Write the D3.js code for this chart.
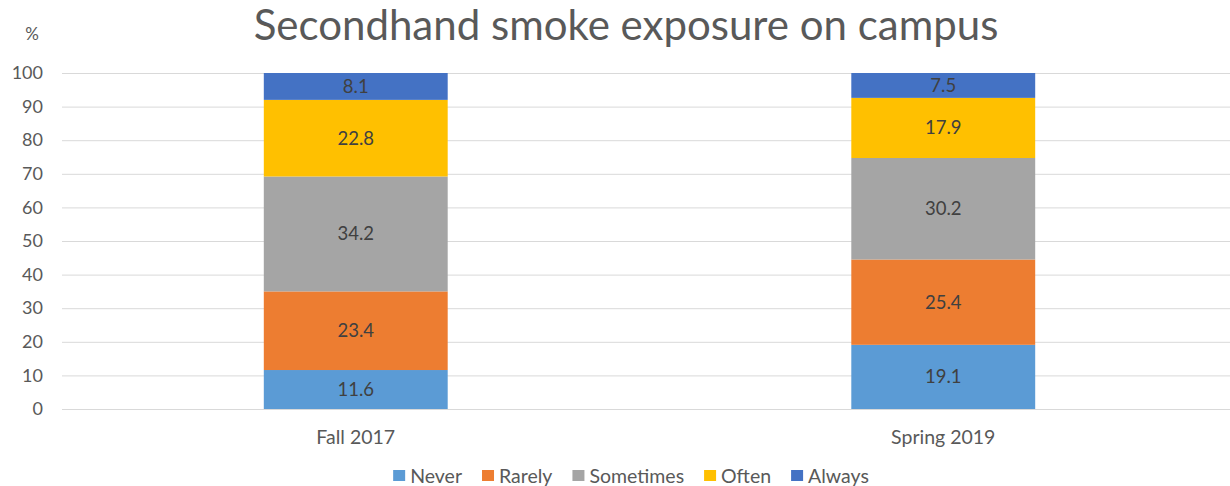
<!DOCTYPE html>
<html>
<head>
<meta charset="utf-8">
<script src="https://cdn.jsdelivr.net/npm/d3@7"></script>
<style>
  html, body { margin: 0; padding: 0; background: #fff; }
  svg { display: block; font-family: Lato, "Open Sans", sans-serif; }
</style>
</head>
<body>
<svg id="chart" width="1230" height="486"></svg>
<script>
// Survey waves and response shares (%)
const categories = ["Fall 2017", "Spring 2019"];
const seriesNames = ["Never", "Rarely", "Sometimes", "Often", "Always"];
const never = [11.6, 19.1];
const rarely = [23.4, 25.4];
const sometimes = [34.2, 30.2];
const often = [22.8, 17.9];
const always = [8.1, 7.5];
const yTicks = [0, 10, 20, 30, 40, 50, 60, 70, 80, 90, 100];
const colors = ["#5B9BD5", "#ED7D31", "#A5A5A5", "#FFC000", "#4472C4"];

const rows = categories.map((c, i) => ({
  cat: c,
  Never: never[i], Rarely: rarely[i], Sometimes: sometimes[i], Often: often[i], Always: always[i]
}));

const svg = d3.select("#chart");
const plotLeft = 62, plotRight = 1237, plotTop = 73, plotBottom = 409;
const fontFamily = "Lato, 'Open Sans', sans-serif";

const x = d3.scaleBand().domain(categories).range([plotLeft, plotRight])
  .paddingInner(0.687).paddingOuter(0.3435);
const y = d3.scaleLinear().domain([0, 100]).range([plotBottom, plotTop]);
const color = d3.scaleOrdinal().domain(seriesNames).range(colors);

// Title
svg.append("text")
  .attr("x", 626).attr("y", 40)
  .attr("text-anchor", "middle")
  .attr("font-size", 42)
  .attr("fill", "#595959")
  .text("Secondhand smoke exposure on campus");

// Unit label
svg.append("text")
  .attr("x", 32).attr("y", 40)
  .attr("text-anchor", "middle")
  .attr("font-size", 17)
  .attr("fill", "#595959")
  .text("%");

// Gridlines and y tick labels
const yAxis = d3.axisLeft(y).tickValues(yTicks).tickSize(-(plotRight - plotLeft)).tickPadding(19);
const gy = svg.append("g").attr("transform", `translate(${plotLeft},0)`).call(yAxis);
gy.select(".domain").remove();
gy.selectAll(".tick line").attr("stroke", "#D9D9D9").attr("stroke-width", 1);
gy.selectAll(".tick text")
  .attr("font-size", 18).attr("fill", "#595959")
  .attr("font-family", fontFamily);

// Stacked bars
const stacked = d3.stack().keys(seriesNames)(rows);
const layers = svg.append("g").selectAll("g").data(stacked).join("g")
  .attr("fill", d => color(d.key));
layers.selectAll("rect").data(d => d).join("rect")
  .attr("x", d => x(d.data.cat))
  .attr("width", x.bandwidth())
  .attr("y", d => y(Math.min(d[1], 100)))
  .attr("height", d => y(d[0]) - y(Math.min(d[1], 100)));

// Value labels
const labels = svg.append("g");
stacked.forEach(layer => {
  layer.forEach(d => {
    labels.append("text")
      .attr("x", x(d.data.cat) + x.bandwidth() / 2)
      .attr("y", (y(d[0]) + y(Math.min(d[1], 100))) / 2)
      .attr("dy", "0.35em")
      .attr("text-anchor", "middle")
      .attr("font-size", 18.5)
      .attr("fill", "#404040")
      .text(d.data[layer.key].toFixed(1));
  });
});

// Category axis labels
const xAxis = d3.axisBottom(x).tickSize(0).tickPadding(21);
const gx = svg.append("g").attr("transform", `translate(0,${plotBottom})`).call(xAxis);
gx.select(".domain").remove();
gx.selectAll(".tick text")
  .attr("font-size", 19.5).attr("fill", "#595959")
  .attr("font-family", fontFamily);

// Legend: swatch + label, laid out in a centred row
const legend = svg.append("g");
const items = seriesNames.map((name, i) => {
  const g = legend.append("g");
  g.append("rect")
    .attr("x", 0).attr("y", -6)
    .attr("width", 12).attr("height", 11)
    .attr("fill", colors[i]);
  const t = g.append("text")
    .attr("x", 17).attr("y", 0)
    .attr("dy", "0.35em")
    .attr("font-size", 19.5)
    .attr("fill", "#595959")
    .text(name);
  return { g, w: 17 + t.node().getComputedTextLength() };
});
const gap = 20;
const totalW = d3.sum(items, d => d.w) + gap * (items.length - 1);
let cx = 631 - totalW / 2;
items.forEach(it => {
  it.g.attr("transform", `translate(${cx},476)`);
  cx += it.w + gap;
});
</script>
</body>
</html>
